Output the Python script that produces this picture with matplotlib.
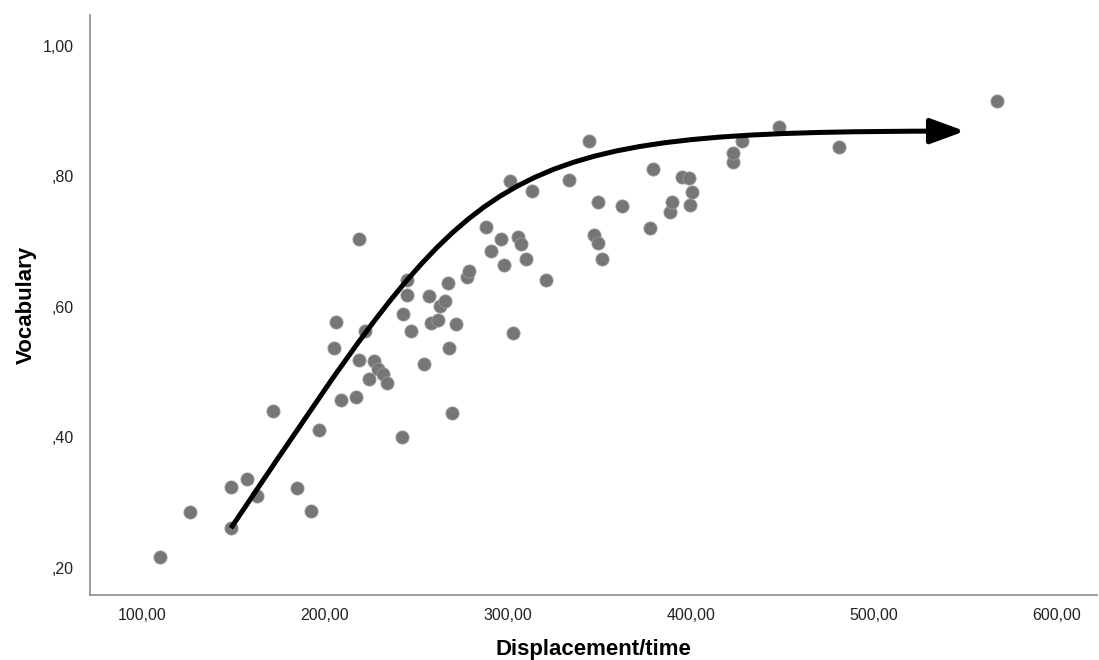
import numpy as np
import matplotlib
matplotlib.use('Agg')
import matplotlib.pyplot as plt
from matplotlib.path import Path
from matplotlib.patches import FancyArrowPatch, ArrowStyle

# scatter data
disp_time = [109.8, 126.2, 148.6, 148.6, 157.4, 162.8, 171.6, 184.7, 192.3, 196.7,
             204.9, 206.0, 208.7, 216.9, 218.6, 218.6, 221.9, 224.0, 226.8, 228.9,
             231.7, 233.9, 242.1, 242.6, 244.8, 244.8, 247.0, 254.1, 256.8, 257.9,
             261.7, 262.8, 265.6, 267.2, 267.8, 269.4, 271.6, 277.6, 278.7, 288.0,
             290.7, 296.2, 297.8, 301.1, 302.7, 305.5, 307.1, 309.8, 313.1, 320.8,
             333.3, 344.3, 347.0, 349.2, 349.2, 351.4, 362.3, 377.6, 379.2, 388.5,
             389.6, 395.1, 398.9, 399.5, 400.5, 423.0, 423.0, 427.9, 448.1, 480.9,
             567.2]
vocabulary = [0.216, 0.285, 0.323, 0.260, 0.336, 0.310, 0.440, 0.322, 0.287, 0.411,
              0.536, 0.576, 0.457, 0.461, 0.703, 0.518, 0.562, 0.489, 0.516, 0.504,
              0.497, 0.483, 0.400, 0.588, 0.641, 0.618, 0.562, 0.512, 0.616, 0.575,
              0.579, 0.601, 0.608, 0.636, 0.536, 0.437, 0.573, 0.645, 0.654, 0.722,
              0.685, 0.703, 0.664, 0.792, 0.559, 0.707, 0.696, 0.673, 0.777, 0.641,
              0.794, 0.854, 0.710, 0.697, 0.760, 0.673, 0.755, 0.720, 0.811, 0.745,
              0.760, 0.798, 0.797, 0.756, 0.775, 0.821, 0.835, 0.854, 0.875, 0.844,
              0.915]

# hand-drawn trend arrow: start, two bezier controls, tip (data units)
arrow_x = [148.6, 285.2, 284.7, 549.7]
arrow_y = [0.2605, 0.8276, 0.869, 0.869]

xticks = [100, 200, 300, 400, 500, 600]
xtick_labels = ['100,00', '200,00', '300,00', '400,00', '500,00', '600,00']
yticks = [0.2, 0.4, 0.6, 0.8, 1.0]
ytick_labels = [',20', ',40', ',60', ',80', '1,00']

plt.rcParams['font.family'] = ['Liberation Sans', 'DejaVu Sans']

fig = plt.figure(figsize=(10.99, 6.6), dpi=100)
ax = fig.add_axes([90 / 1099, 65 / 660, 1007 / 1099, 580 / 660])

ax.scatter(disp_time, vocabulary, s=90, color='#767676', edgecolors='#9a9a9a',
           linewidths=0.6, zorder=3)

ax.set_xlim(71.6, 621.9)
ax.set_ylim(0.158, 1.047)

path = Path(np.column_stack([arrow_x, arrow_y]),
            [Path.MOVETO, Path.CURVE4, Path.CURVE4, Path.CURVE4])
arrow = FancyArrowPatch(path=path,
                        arrowstyle=ArrowStyle('-|>', head_length=1.5, head_width=0.55),
                        mutation_scale=14, lw=3.6, color='black', zorder=4,
                        capstyle='butt', joinstyle='round')
ax.add_patch(arrow)

ax.set_xticks(xticks)
ax.set_xticklabels(xtick_labels)
ax.set_yticks(yticks)
ax.set_yticklabels(ytick_labels)
ax.tick_params(length=0, labelsize=11.5, colors='#222222', pad=12)
ax.tick_params(axis='x', pad=9)

for side in ['top', 'right']:
    ax.spines[side].set_visible(False)
for side in ['left', 'bottom']:
    ax.spines[side].set_color('#8c8c8c')
    ax.spines[side].set_linewidth(1.2)

ax.set_xlabel('Displacement/time', fontsize=16, fontweight='bold', labelpad=12)
ax.set_ylabel('Vocabulary', fontsize=16, fontweight='bold', labelpad=4)

fig.savefig('out.png', dpi=100)
